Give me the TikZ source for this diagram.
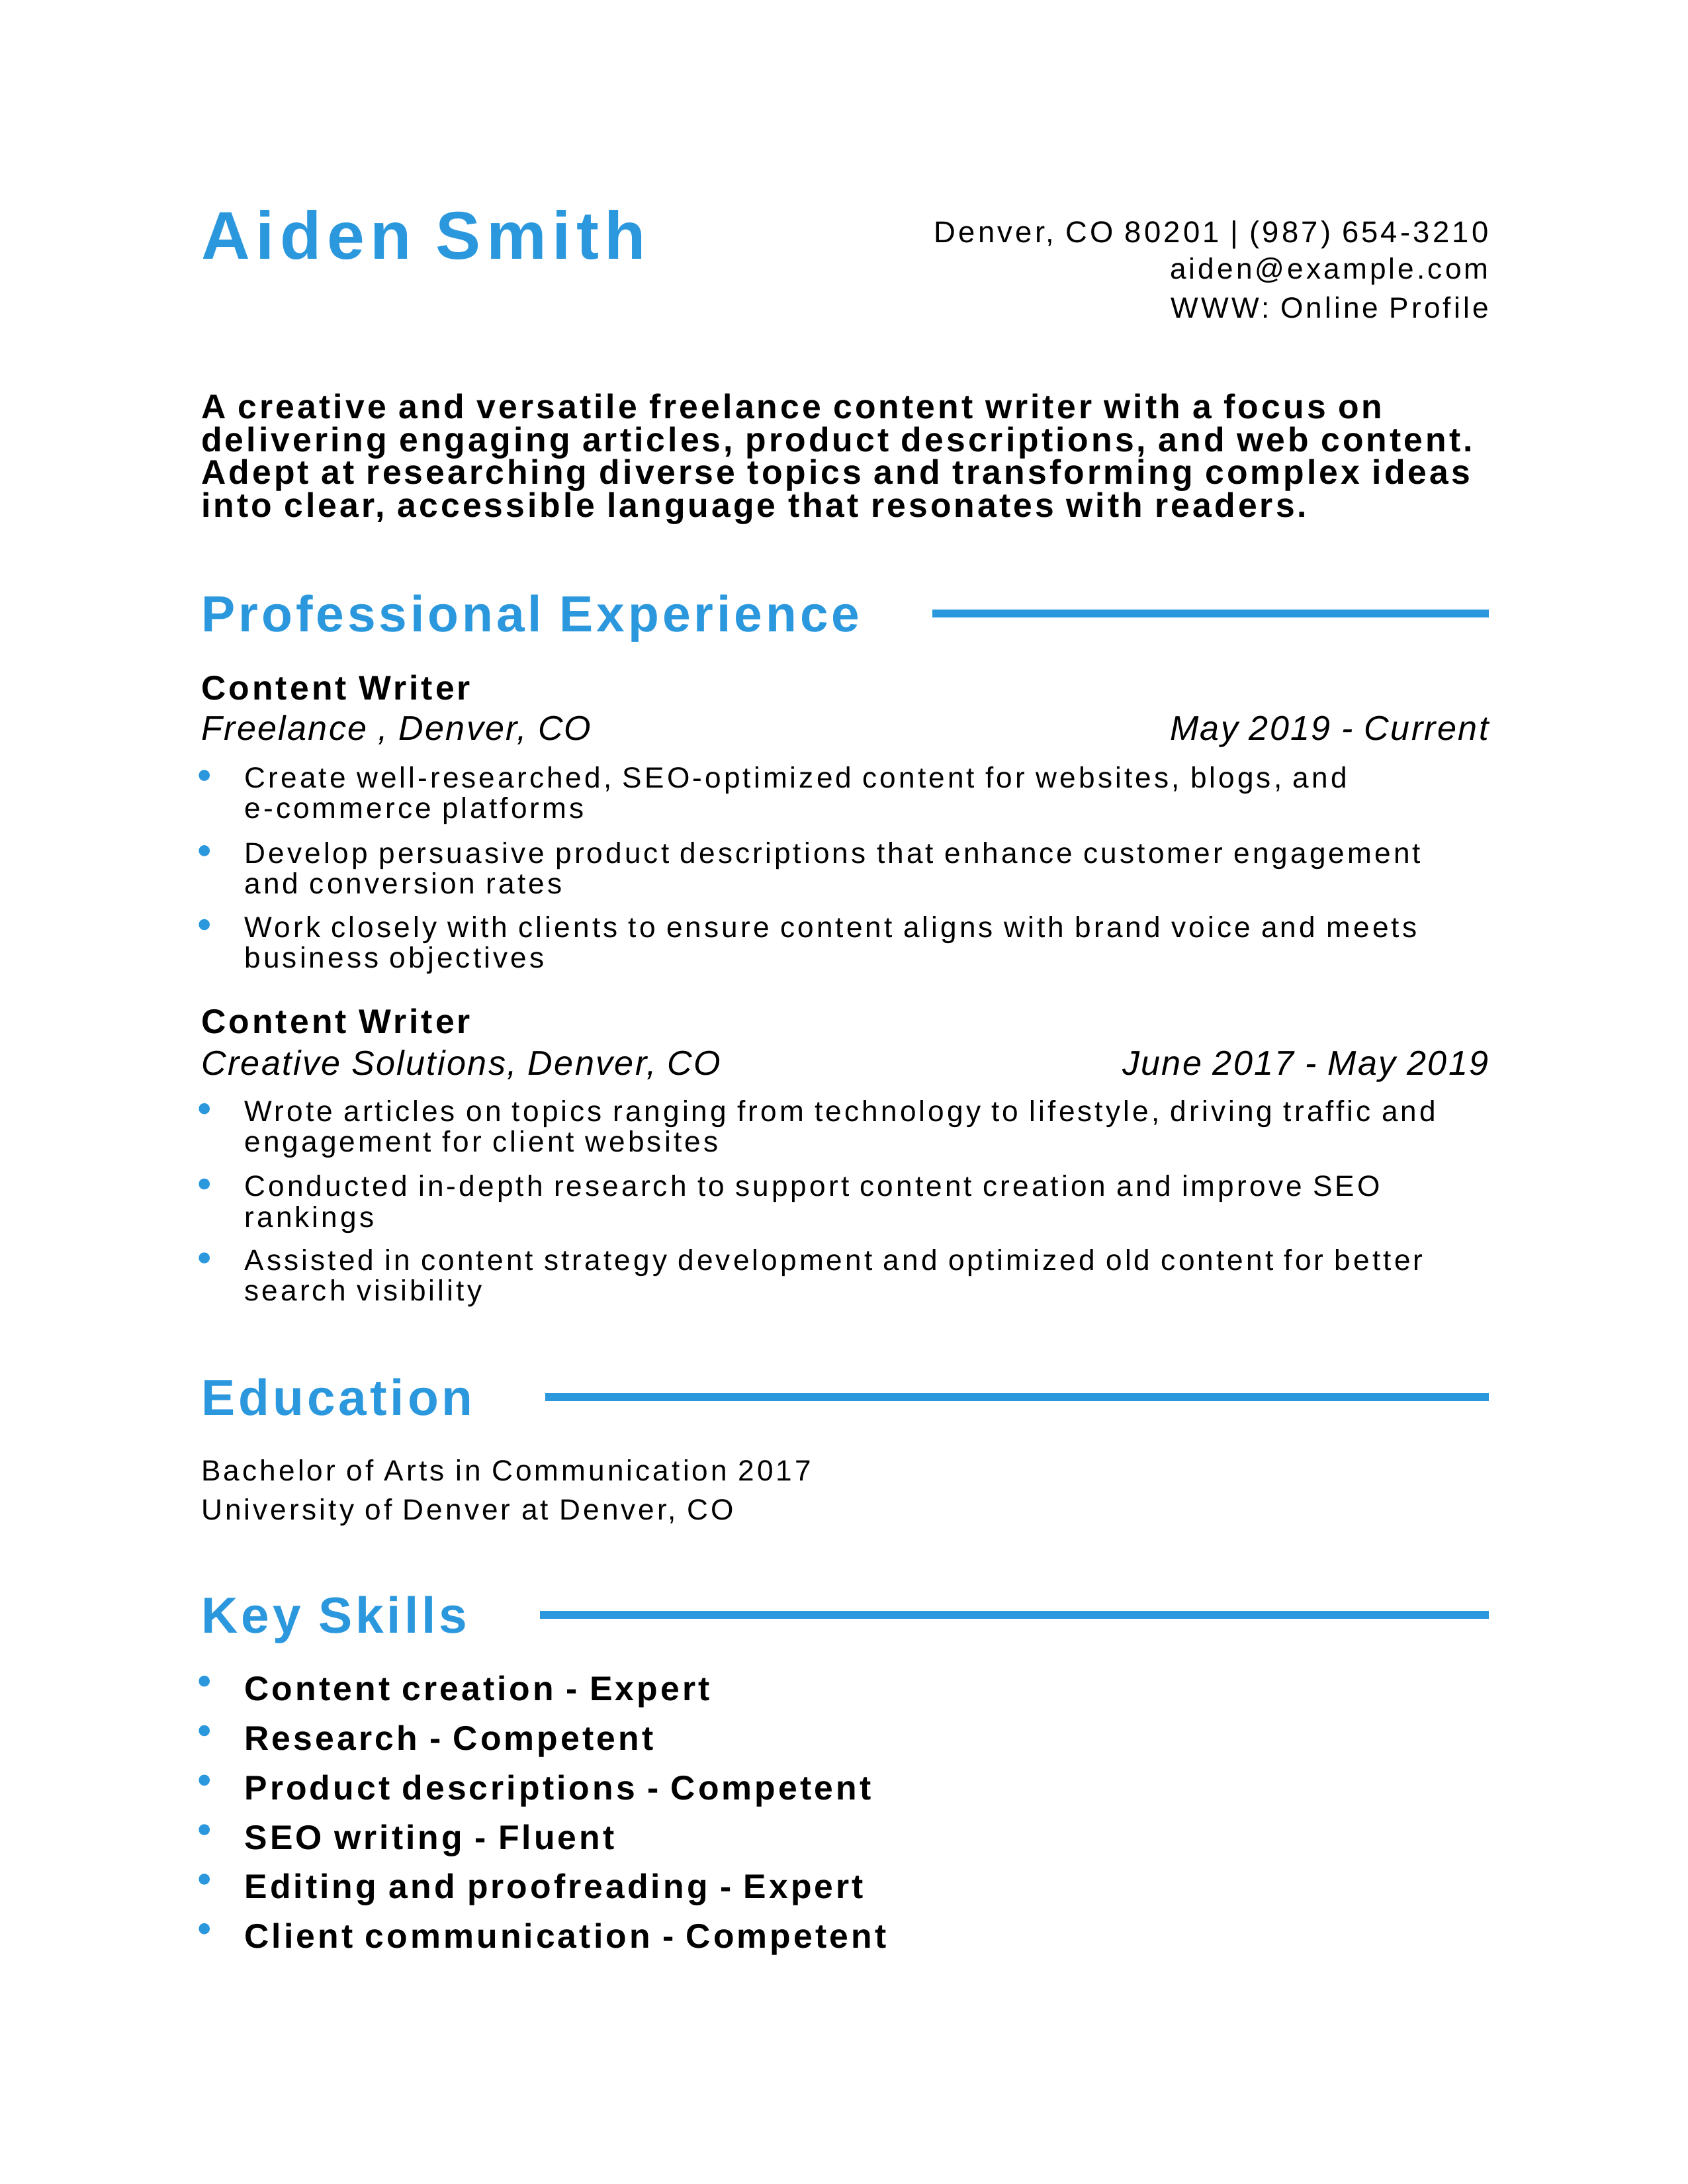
\documentclass[tikz,border=0pt]{standalone}
\usepackage{fontspec}
\setmainfont{Liberation Sans}
\newfontfamily\cvbody{Liberation Sans}[LetterSpace=9.3]
\newfontfamily\cvslant{Liberation Sans}[LetterSpace=4.5]
\newfontfamily\cvstrong{Liberation Sans}[LetterSpace=7.9]
\newfontfamily\cvhead{Liberation Sans}[LetterSpace=6.5]
\newfontfamily\cvbig{Liberation Sans}[LetterSpace=8.3]
\definecolor{cvblue}{HTML}{2B98DE}
\begin{document}
\begin{tikzpicture}[x=0.5057pt,y=-0.5057pt,
    txt/.style={inner sep=0pt,anchor=base west},
    bodytext/.style={txt,font=\cvbody\fontsize{10.6}{12.5}\selectfont},
    strongtext/.style={txt,font=\cvstrong\bfseries\fontsize{12.4}{14}\selectfont},
    headtext/.style={txt,text=cvblue,font=\cvhead\bfseries\fontsize{18.4}{22}\selectfont},
    jobplace/.style={txt,font=\cvslant\itshape\fontsize{12.5}{14}\selectfont},
    jobdate/.style={jobplace,anchor=base east},
    secrule/.style={cvblue,line width=2.9pt},
    dot/.style={circle,fill=cvblue,inner sep=0pt,minimum size=4pt}]
  \useasboundingbox (0,0) rectangle (1210.2,1566.1);
  \coordinate (rmargin) at (1068,0);
  % header
  \node[txt,text=cvblue,font=\cvbig\bfseries\fontsize{24.5}{29}\selectfont] (who) at (144,186) {Aiden Smith};
  \node[bodytext,anchor=base east,font=\cvbody\fontsize{10.9}{13}\selectfont] (addr) at (1068,174) {Denver, CO 80201 | (987) 654-3210};
  \node[bodytext,anchor=base east] (mail) at (1068,200) {aiden@example.com};
  \node[bodytext,anchor=base east] (web) at (1068,228) {WWW: Online Profile};
  % summary
  \node[strongtext] (sum1) at (144,300) {A creative and versatile freelance content writer with a focus on};
  \node[strongtext] (sum2) at (144,324) {delivering engaging articles, product descriptions, and web content.};
  \node[strongtext] (sum3) at (144,347) {Adept at researching diverse topics and transforming complex ideas};
  \node[strongtext] (sum4) at (144,371) {into clear, accessible language that resonates with readers.};
  % experience
  \node[headtext] (exp) at (144,453) {Professional Experience};
  \draw[secrule] ([xshift=26pt,yshift=6.6pt]exp.base east) -- ([yshift=6.6pt]exp.base east -| rmargin);
  \node[strongtext] (job1) at (144,502) {Content Writer};
  \node[jobplace] (place1) at (144,531) {Freelance , Denver, CO};
  \node[jobdate] (date1) at (1068,531) {May 2019 - Current};
  \node[strongtext] (job2) at (144,741) {Content Writer};
  \node[jobplace] (place2) at (144,771) {Creative Solutions, Denver, CO};
  \node[jobdate] (date2) at (1068,771) {June 2017 - May 2019};
  \foreach \y/\t [count=\i] in {565/{Create well-researched, SEO-optimized content for websites, blogs, and},
      587/{e-commerce platforms},
      619/{Develop persuasive product descriptions that enhance customer engagement},
      641/{and conversion rates},
      672/{Work closely with clients to ensure content aligns with brand voice and meets},
      694/{business objectives},
      804/{Wrote articles on topics ranging from technology to lifestyle, driving traffic and},
      826/{engagement for client websites},
      858/{Conducted in-depth research to support content creation and improve SEO},
      880/{rankings},
      911/{Assisted in content strategy development and optimized old content for better},
      933/{search visibility}}
    \node[bodytext] (line\i) at (175,\y) {\t};
  \foreach \y [count=\i] in {556,610,663,795,849,902}
    \node[dot] (tick\i) at (146.5,\y) {};
  % education
  \node[headtext] (edu) at (144,1015) {Education};
  \draw[secrule] ([xshift=26pt,yshift=6.6pt]edu.base east) -- ([yshift=6.6pt]edu.base east -| rmargin);
  \node[bodytext] (degree) at (144,1062) {Bachelor of Arts in Communication 2017};
  \node[bodytext] (school) at (144,1090) {University of Denver at Denver, CO};
  % skills
  \node[headtext] (skills) at (144,1171) {Key Skills};
  \draw[secrule] ([xshift=26pt,yshift=6.6pt]skills.base east) -- ([yshift=6.6pt]skills.base east -| rmargin);
  \foreach \s [count=\i] in {Content creation - Expert,Research - Competent,Product descriptions - Competent,
      SEO writing - Fluent,Editing and proofreading - Expert,Client communication - Competent}{
    \pgfmathsetmacro\y{1184+35.5*\i}
    \node[strongtext] (skill\i) at (175,\y) {\s};
    \node[dot] (mark\i) at (146.5,\y-14) {};
  }
\end{tikzpicture}
\end{document}
